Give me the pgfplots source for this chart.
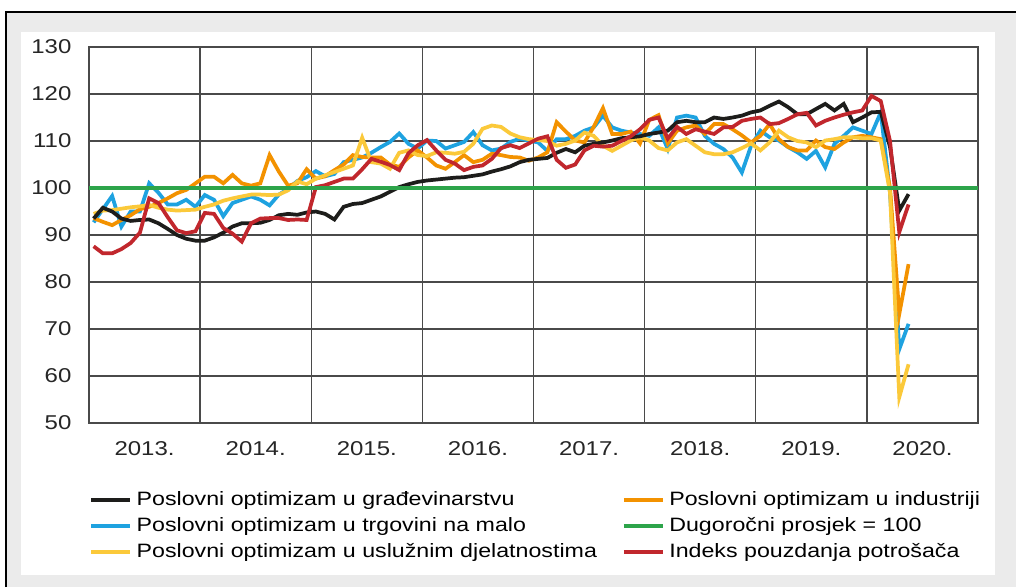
\documentclass[border=0pt]{standalone}
\usepackage{pgfplots}
\pgfplotsset{compat=1.18}
\usepackage{pgfplotstable}
\usepackage{fontspec}
\setmainfont{Liberation Sans}[FakeStretch=1.2]
\definecolor{cblk}{HTML}{1D1D1B}
\definecolor{corg}{HTML}{F39200}
\definecolor{cblu}{HTML}{1EA2E0}
\definecolor{cgrn}{HTML}{2DA44A}
\definecolor{cyel}{HTML}{FBC93A}
\definecolor{cred}{HTML}{C1272D}
\definecolor{bggray}{HTML}{EBEBEB}
\definecolor{gridc}{HTML}{4A4A4A}
\pgfplotstableread{
m blk org blu yel red
0 93.5 93.6 92.7 94.5 87.6
1 95.8 92.8 95.5 95.2 86.1
2 95.0 92.1 98.3 95.3 86.1
3 93.5 93.2 91.8 95.6 87.0
4 93.0 94.2 95.0 95.9 88.3
5 93.2 95.5 95.0 96.1 90.5
6 93.3 96.0 101.0 96.4 97.8
7 92.5 96.8 99.0 95.8 96.8
8 91.3 97.8 96.5 95.4 93.8
9 90.0 98.9 96.5 95.2 91.0
10 89.2 99.6 97.5 95.3 90.4
11 88.8 101.0 96.0 95.4 90.8
12 88.8 102.4 98.5 96.0 94.7
13 89.5 102.4 97.5 96.5 94.5
14 90.5 101.0 94.0 97.3 91.5
15 91.8 102.8 96.8 97.8 90.3
16 92.5 101.0 97.5 98.2 88.6
17 92.5 100.5 98.2 98.6 92.5
18 92.6 101.0 97.5 98.6 93.5
19 93.2 107.0 96.3 98.5 93.6
20 94.2 103.5 98.6 98.6 93.6
21 94.5 100.5 99.8 99.5 93.2
22 94.3 101.0 101.5 101.4 93.3
23 94.8 104.0 102.3 100.8 93.2
24 95.0 102.0 103.6 102.0 100.2
25 94.5 102.5 102.5 102.7 100.6
26 93.3 103.8 103.0 103.4 101.3
27 96.0 105.0 105.5 104.1 102.0
28 96.6 107.0 106.0 104.8 102.0
29 96.8 106.6 106.5 110.7 104.0
30 97.5 106.5 107.5 105.5 106.2
31 98.2 106.5 108.7 105.2 105.6
32 99.2 105.0 109.8 104.1 104.9
33 100.2 104.5 111.6 107.5 103.8
34 100.8 106.5 109.4 108.0 107.4
35 101.3 108.0 108.4 107.0 109.1
36 101.6 106.5 110.1 106.8 110.2
37 101.8 104.8 110.0 107.6 108.0
38 102.0 104.1 108.4 107.5 106.0
39 102.2 105.5 109.1 107.3 105.2
40 102.3 107.0 109.8 107.7 103.8
41 102.6 105.5 111.9 109.4 104.5
42 102.9 106.0 109.1 112.6 104.8
43 103.5 107.3 108.0 113.3 106.2
44 104.0 107.0 108.4 113.0 108.5
45 104.6 106.6 109.8 111.6 109.1
46 105.5 106.5 110.5 110.8 108.5
47 106.0 105.8 110.1 110.4 109.5
48 106.2 106.5 109.7 110.2 110.5
49 106.4 107.6 107.9 110.0 111.0
50 107.5 114.0 110.4 109.0 106.0
51 108.3 112.0 110.4 109.4 104.3
52 107.6 110.1 111.1 110.1 105.0
53 109.0 109.7 112.2 111.8 108.0
54 109.4 113.0 112.9 111.1 109.0
55 109.7 117.0 115.4 109.0 108.8
56 110.1 111.5 112.9 107.9 109.0
57 110.6 111.5 112.2 109.0 110.0
58 110.8 112.0 111.8 110.1 111.0
59 111.0 109.5 111.5 110.8 112.5
60 111.5 114.5 111.1 110.1 114.5
61 111.8 115.5 112.9 108.5 115.0
62 112.2 109.5 108.3 108.0 110.5
63 114.0 112.2 115.0 109.7 113.0
64 114.3 112.9 115.4 110.4 111.5
65 114.0 113.3 115.0 109.0 112.5
66 114.0 111.5 111.1 107.6 112.0
67 115.0 113.6 109.4 107.2 111.5
68 114.7 113.6 108.3 107.2 112.9
69 115.0 112.5 106.5 107.6 113.0
70 115.4 111.2 103.3 108.5 114.3
71 116.1 109.7 109.0 109.5 114.7
72 116.5 111.1 112.2 108.0 115.0
73 117.5 113.6 110.8 109.7 113.6
74 118.4 110.4 110.1 112.2 113.8
75 117.2 108.7 108.7 110.8 114.7
76 115.7 108.0 107.6 110.0 115.7
77 115.7 108.0 106.2 109.7 116.0
78 116.8 110.1 107.9 108.7 113.3
79 117.9 108.7 104.4 110.1 114.3
80 116.5 108.3 109.4 110.4 115.0
81 117.9 109.7 111.1 110.8 115.6
82 114.0 110.8 112.9 110.8 116.1
83 115.0 111.1 112.2 110.6 116.5
84 116.1 110.8 111.5 110.6 119.6
85 116.2 110.4 116.1 110.1 118.5
86 108.7 100.0 99.0 99.0 110.0
87 95.2 73.2 65.7 55.5 90.6
88 98.7 83.8 71.1 62.5 96.5
}\data
\begin{document}
\begin{tikzpicture}
\useasboundingbox (0pt,0pt) rectangle (762pt,-440.25pt);
\fill[bggray] (4.5pt,-9pt) rectangle (762pt,-440.25pt);
\draw[black, line width=0.9pt] (4.5pt,-440.25pt) -- (4.5pt,-9pt) -- (762pt,-9pt);
\fill[white] (15.75pt,-24pt) rectangle (746.25pt,-431.25pt);
\begin{axis}[
  at={(66.75pt,-317.25pt)}, anchor=south west,
  scale only axis, width=666.75pt, height=282pt,
  xmin=0, xmax=96, ymin=50, ymax=130,
  xtick={6,18,30,42,54,66,78,90},
  xticklabels={2013.,2014.,2015.,2016.,2017.,2018.,2019.,2020.},
  extra x ticks={12,24,36,48,60,72,84},
  extra x tick labels={},
  extra x tick style={grid=major},
  ytick={50,60,...,130},
  ymajorgrids,
  major tick length=0pt,
  tick style={draw=none},
  major grid style={gridc, line width=1.1pt},
  axis line style={gridc, line width=1.1pt},
  /pgf/number format/assume math mode=true,
  tick label style={font=\fontsize{15}{15}\selectfont, text=black!85},
  yticklabel style={anchor=east, inner sep=0pt, xshift=-13pt},
  xticklabel style={anchor=north, inner sep=0pt, yshift=-14pt},
  legend columns=2,
  legend cell align=left,
  legend image code/.code={\draw[#1] (0pt,0pt) -- (29.25pt,0pt);},
  legend style={draw=none, fill=none, inner sep=0pt, outer sep=0pt,
    at={(axis description cs:0.0,-0.181)}, anchor=north west,
    font=\fontsize{14.5}{16}\selectfont, row sep=6pt,
    nodes={inner sep=0pt, text height=10.5pt, text depth=3pt},
    /tikz/every odd column/.append style={column sep=3pt},
    /tikz/every even column/.append style={column sep=18.5pt}},
]
\addplot[cblu, line width=2.8pt, forget plot] table[x expr=\thisrow{m}+0.5, y=blu]{\data};
\addplot[corg, line width=2.8pt, forget plot] table[x expr=\thisrow{m}+0.5, y=org]{\data};
\addplot[cyel, line width=2.8pt, forget plot] table[x expr=\thisrow{m}+0.5, y=yel]{\data};
\addplot[cblk, line width=2.8pt, forget plot] table[x expr=\thisrow{m}+0.5, y=blk]{\data};
\addplot[cred, line width=2.8pt, forget plot] table[x expr=\thisrow{m}+0.5, y=red]{\data};
\addplot[cgrn, line width=2.6pt, forget plot] coordinates {(0,100) (96,100)};
\addlegendimage{cblk, line width=3.5pt}
\addlegendentry{Poslovni optimizam u građevinarstvu}
\addlegendimage{corg, line width=3.5pt}
\addlegendentry{Poslovni optimizam u industriji}
\addlegendimage{cblu, line width=3.5pt}
\addlegendentry{Poslovni optimizam u trgovini na malo}
\addlegendimage{cgrn, line width=3.5pt}
\addlegendentry{Dugoročni prosjek = 100}
\addlegendimage{cyel, line width=3.5pt}
\addlegendentry{Poslovni optimizam u uslužnim djelatnostima}
\addlegendimage{cred, line width=3.5pt}
\addlegendentry{Indeks pouzdanja potrošača}
\end{axis}
\end{tikzpicture}
\end{document}
